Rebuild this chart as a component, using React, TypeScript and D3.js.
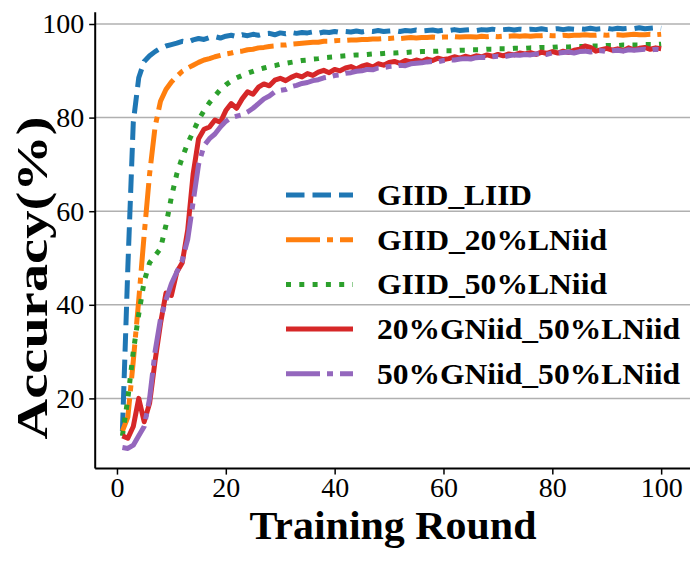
import React, { useEffect, useRef } from "react";
import * as d3 from "d3";

// rounds 1..100
const rounds: number[] = d3.range(1, 101);

const giidLiid = [
  13, 48, 79, 88.5, 92, 93.2, 94.1, 94.8, 95.3, 95.6,
  95.9, 96.3, 96.1, 96.6, 96.9, 96.7, 97.1, 97.3, 97.0, 97.4,
  97.6, 97.3, 97.7, 97.5, 97.8, 97.6, 97.9, 98.0, 97.7, 98.1,
  97.9, 98.2, 98.0, 98.2, 98.1, 98.3, 98.0, 98.3, 98.2, 98.4,
  98.2, 98.4, 98.3, 98.5, 98.3, 98.5, 98.4, 98.6, 98.4, 98.5,
  98.6, 98.4, 98.6, 98.5, 98.7, 98.5, 98.6, 98.7, 98.5, 98.7,
  98.6, 98.8, 98.6, 98.7, 98.8, 98.6, 98.8, 98.7, 98.9, 98.7,
  98.8, 98.9, 98.7, 98.9, 98.8, 98.9, 98.8, 99.0, 98.8, 98.9,
  99.0, 98.8, 99.0, 98.9, 99.0, 98.9, 99.1, 98.9, 99.0, 99.1,
  98.9, 99.1, 99.0, 99.1, 99.0, 99.2, 99.0, 99.1, 99.2, 99.1,
];

const giid20 = [
  13, 16, 28, 41, 55, 68, 78, 83.5, 86, 87.6,
  88.8, 89.9, 90.6, 91.2, 91.8, 92.3, 92.6, 93.0, 93.3, 93.6,
  93.8, 94.1, 94.2, 94.5, 94.6, 94.9, 95.0, 95.2, 95.3, 95.5,
  95.5, 95.7, 95.8, 95.9, 96.0, 96.1, 96.1, 96.3, 96.3, 96.4,
  96.5, 96.5, 96.6, 96.6, 96.7, 96.7, 96.8, 96.8, 96.9, 96.9,
  97.0, 96.9, 97.0, 97.1, 97.0, 97.1, 97.1, 97.2, 97.1, 97.2,
  97.2, 97.3, 97.2, 97.3, 97.3, 97.2, 97.4, 97.3, 97.4, 97.3,
  97.4, 97.4, 97.5, 97.4, 97.5, 97.4, 97.5, 97.5, 97.6, 97.5,
  97.5, 97.6, 97.5, 97.6, 97.6, 97.7, 97.6, 97.6, 97.7, 97.6,
  97.7, 97.7, 97.6, 97.7, 97.8, 97.7, 97.7, 97.8, 97.7, 97.8,
];

const giid50 = [
  12, 20, 30, 38, 45, 49, 50.5, 52, 57, 63,
  68, 71.5, 74.5, 77, 79.5, 81.5, 83.2, 84.6, 86, 87,
  87.8, 88.5, 89, 89.5, 89.9, 90.3, 90.6, 90.9, 91.1, 91.4,
  91.6, 91.8, 92.0, 92.2, 92.3, 92.5, 92.6, 92.8, 92.9, 93.0,
  93.1, 93.2, 93.3, 93.4, 93.4, 93.5, 93.6, 93.6, 93.7, 93.8,
  93.8, 93.9, 93.9, 94.0, 94.0, 94.1, 94.1, 94.2, 94.2, 94.3,
  94.3, 94.3, 94.4, 94.4, 94.5, 94.5, 94.5, 94.6, 94.6, 94.7,
  94.7, 94.7, 94.8, 94.8, 94.8, 94.9, 94.9, 95.0, 95.0, 95.0,
  95.1, 95.1, 95.1, 95.2, 95.2, 95.2, 95.3, 95.3, 95.3, 95.4,
  95.4, 95.4, 95.5, 95.5, 95.5, 95.5, 95.6, 95.6, 95.6, 95.7,
];

const gniid20 = [
  12, 11.5, 14, 20, 15, 19, 28, 36, 42.5, 42,
  47, 49, 56, 68, 75.5, 77.5, 78, 79.5, 79, 81.5,
  83, 82, 84, 85.5, 85, 86.5, 87.2, 86.8, 88, 88.4,
  87.9, 88.6, 89.1, 88.7, 89.4, 89.0, 89.7, 90.1, 89.6, 90.3,
  90.0, 90.6, 90.9, 90.4, 91.0, 91.3, 90.8, 91.5, 91.2, 91.8,
  92.0, 91.6, 92.2, 91.9, 92.3, 92.0, 92.5, 92.2, 92.7, 92.4,
  92.6, 93.0, 92.7, 93.1, 92.8, 93.2, 93.0, 93.4, 93.1, 93.5,
  93.2, 93.6, 93.4, 93.8, 93.6, 93.9, 93.5, 94.0, 93.7, 94.1,
  93.8, 94.2, 93.9, 94.4, 94.6, 95.3, 95.0, 94.2, 94.5, 94.8,
  94.4, 94.7, 94.3, 94.9, 94.5, 94.8, 95.0, 94.6, 94.9, 94.7,
];

const gniid50 = [
  9.5, 9.3, 10, 12, 14, 20, 30, 37, 41, 44.5,
  47, 49.5, 54, 62, 70, 74, 75.5, 76.5, 78, 79.2,
  80, 80.3, 80.6, 81.2, 82, 83, 84, 84.6, 85.5, 85.8,
  86.0, 86.6, 86.9, 87.3, 87.5, 87.9, 88.1, 88.5, 88.7, 89.0,
  89.1, 89.5, 89.6, 89.9, 90.0, 90.3, 90.2, 90.6, 90.7, 90.9,
  91.0, 91.2, 91.1, 91.5, 91.6, 91.7, 91.9, 92.0, 91.9, 92.2,
  92.3, 92.3, 92.5, 92.6, 92.5, 92.8, 92.9, 92.8, 93.0, 93.1,
  93.0, 93.2, 93.4, 93.3, 93.5, 93.4, 93.6, 93.7, 93.5, 93.8,
  93.8, 93.9, 94.0, 93.8, 94.1, 94.2, 94.0, 94.2, 94.3, 94.1,
  94.3, 94.4, 94.2, 94.5, 94.4, 94.5, 94.6, 94.4, 94.6, 94.5,
];

const seriesNames = [
  "GIID_LIID",
  "GIID_20%LNiid",
  "GIID_50%LNiid",
  "20%GNiid_50%LNiid",
  "50%GNiid_50%LNiid",
];
const seriesValues = [giidLiid, giid20, giid50, gniid20, gniid50];
const seriesColors = ["#1f77b4", "#ff7f0e", "#2ca02c", "#d62728", "#9467bd"];
const seriesDash = ["18.5,8", "34,7,6,7", "5,8.3", "none", "34,7,6,7"];
const legendLengths = [155, 230, 230, 303, 303];

const xTicks = [0, 20, 40, 60, 80, 100];
const yTicks = [20, 40, 60, 80, 100];

const FONT = "'Liberation Serif', 'Times New Roman', serif";

export default function App() {
  const ref = useRef<SVGSVGElement>(null);

  useEffect(() => {
    const width = 694;
    const height = 563;
    const svg = d3.select(ref.current);
    svg.selectAll("*").remove();

    const x = d3.scaleLinear().domain([-4, 105.3]).range([95.2, 690]);
    const y = d3.scaleLinear().domain([5, 102.5]).range([468.6, 12.3]);

    // grid
    svg
      .append("g")
      .selectAll("line")
      .data(yTicks)
      .enter()
      .append("line")
      .attr("x1", x(-4))
      .attr("x2", x(105.3))
      .attr("y1", (d) => y(d))
      .attr("y2", (d) => y(d))
      .attr("stroke", "#b0b0b0")
      .attr("stroke-width", 1.5);

    // lines
    const line = d3
      .line<number>()
      .x((d, i) => x(rounds[i]))
      .y((d) => y(d));

    svg
      .append("g")
      .selectAll("path")
      .data(seriesValues)
      .enter()
      .append("path")
      .attr("d", (d) => line(d))
      .attr("fill", "none")
      .attr("stroke", (d, i) => seriesColors[i])
      .attr("stroke-width", 5)
      .attr("stroke-linejoin", "round")
      .attr("stroke-dasharray", (d, i) => seriesDash[i]);

    // axes
    const xAxis = svg
      .append("g")
      .attr("transform", `translate(0,${y(5)})`)
      .call(d3.axisBottom(x).tickValues(xTicks).tickSize(6).tickPadding(3));
    xAxis.select(".domain").attr("stroke-width", 2).attr("d", `M${x(-4)},0H${x(105.3)}`);
    xAxis.selectAll(".tick line").attr("stroke-width", 1.5);
    xAxis
      .selectAll(".tick text")
      .attr("font-family", FONT)
      .attr("font-size", 28)
      .attr("fill", "#000");

    const yAxis = svg
      .append("g")
      .attr("transform", `translate(${x(-4)},0)`)
      .call(d3.axisLeft(y).tickValues(yTicks).tickSize(6).tickPadding(5));
    yAxis.select(".domain").attr("stroke-width", 2).attr("d", `M0,${y(5)}V${y(102.5)}`);
    yAxis.selectAll(".tick line").attr("stroke-width", 1.5);
    yAxis
      .selectAll(".tick text")
      .attr("font-family", FONT)
      .attr("font-size", 28)
      .attr("fill", "#000");

    svg
      .append("text")
      .attr("x", 393)
      .attr("y", 539)
      .attr("text-anchor", "middle")
      .attr("font-family", FONT)
      .attr("font-weight", "bold")
      .attr("font-size", 40)
      .attr("textLength", 287)
      .attr("lengthAdjust", "spacingAndGlyphs")
      .text("Training Round");

    svg
      .append("text")
      .attr("transform", "translate(47,278) rotate(-90)")
      .attr("text-anchor", "middle")
      .attr("font-family", FONT)
      .attr("font-weight", "bold")
      .attr("font-size", 45)
      .attr("textLength", 323)
      .attr("lengthAdjust", "spacingAndGlyphs")
      .text("Accuracy(%)");

    // legend
    const legend = svg
      .append("g")
      .selectAll("g")
      .data(seriesNames)
      .enter()
      .append("g")
      .attr("transform", (d, i) => `translate(286,${195 + i * 44.7})`);

    legend
      .append("line")
      .attr("x1", 0)
      .attr("x2", 67)
      .attr("stroke", (d, i) => seriesColors[i])
      .attr("stroke-width", 5)
      .attr("stroke-dasharray", (d, i) => seriesDash[i]);

    legend
      .append("text")
      .attr("x", 91)
      .attr("y", 10)
      .attr("font-family", FONT)
      .attr("font-weight", "bold")
      .attr("font-size", 30)
      .attr("textLength", (d, i) => legendLengths[i])
      .attr("lengthAdjust", "spacingAndGlyphs")
      .text((d) => d);

    svg.attr("width", width).attr("height", height);
  }, []);

  return (
    <div style={{ position: "absolute", left: 0, top: 0, background: "#fff" }}>
      <svg ref={ref} width={694} height={563} style={{ display: "block" }} />
    </div>
  );
}
